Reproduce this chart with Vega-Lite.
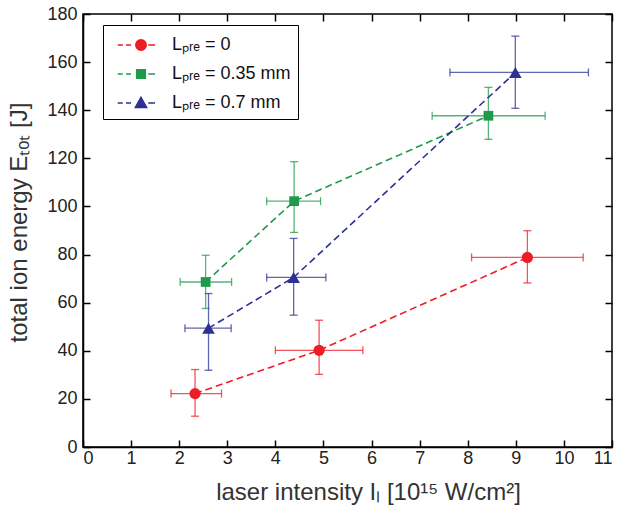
{
  "$schema": "https://vega.github.io/schema/vega-lite/v6.json",
  "width": 529,
  "height": 433,
  "autosize": "none",
  "padding": {"left": 83, "top": 14, "right": 8, "bottom": 63},
  "background": "white",
  "data": {
    "values": [
      {"series": "Lₚᵣₑ = 0", "x": 2.33, "xlo": 1.83, "xhi": 2.88, "y": 22.2, "ylo": 12.8, "yhi": 32.2},
      {"series": "Lₚᵣₑ = 0", "x": 4.91, "xlo": 4.0, "xhi": 5.82, "y": 40.2, "ylo": 30.2, "yhi": 52.7},
      {"series": "Lₚᵣₑ = 0", "x": 9.24, "xlo": 8.08, "xhi": 10.4, "y": 78.8, "ylo": 68.2, "yhi": 89.9},
      {"series": "Lₚᵣₑ = 0.35 mm", "x": 2.55, "xlo": 2.02, "xhi": 3.09, "y": 68.6, "ylo": 57.6, "yhi": 79.7},
      {"series": "Lₚᵣₑ = 0.35 mm", "x": 4.39, "xlo": 3.82, "xhi": 4.94, "y": 102.2, "ylo": 89.2, "yhi": 118.6},
      {"series": "Lₚᵣₑ = 0.35 mm", "x": 8.43, "xlo": 7.26, "xhi": 9.61, "y": 137.7, "ylo": 127.9, "yhi": 149.5},
      {"series": "Lₚᵣₑ = 0.7 mm", "x": 2.61, "xlo": 2.12, "xhi": 3.08, "y": 49.4, "ylo": 31.9, "yhi": 63.8},
      {"series": "Lₚᵣₑ = 0.7 mm", "x": 4.38, "xlo": 3.82, "xhi": 5.05, "y": 70.5, "ylo": 54.8, "yhi": 86.7},
      {"series": "Lₚᵣₑ = 0.7 mm", "x": 8.99, "xlo": 7.63, "xhi": 10.51, "y": 155.7, "ylo": 140.8, "yhi": 170.8}
    ]
  },
  "layer": [
    {
      "mark": {"type": "errorbar", "ticks": {"size": 8, "thickness": 1.3, "opacity": 0.75}, "rule": {"strokeWidth": 1.3, "opacity": 0.75}},
      "encoding": {
        "x": {"field": "xlo", "type": "quantitative", "scale": {"domain": [0, 11], "nice": false}, "axis": null},
        "x2": {"field": "xhi"},
        "y": {"field": "y", "type": "quantitative", "scale": {"domain": [0, 180], "nice": false}, "axis": null},
        "color": {"field": "series", "type": "nominal"}
      }
    },
    {
      "mark": {"type": "errorbar", "ticks": {"size": 8, "thickness": 1.3, "opacity": 0.75}, "rule": {"strokeWidth": 1.3, "opacity": 0.75}},
      "encoding": {
        "x": {"field": "x", "type": "quantitative", "axis": null},
        "y": {"field": "ylo", "type": "quantitative", "axis": null},
        "y2": {"field": "yhi"},
        "color": {"field": "series", "type": "nominal"}
      }
    },
    {
      "mark": {"type": "line", "strokeWidth": 1.6, "strokeDash": [7, 4]},
      "encoding": {
        "x": {
          "field": "x", "type": "quantitative",
          "axis": {"orient": "bottom", "tickCount": 11, "title": "laser intensity Iₗ [10¹⁵ W/cm²]", "titleX": 285, "titleY": 33, "titleBaseline": "top", "titleFontSize": 24}
        },
        "y": {
          "field": "y", "type": "quantitative",
          "axis": {"orient": "left", "tickCount": 9, "title": "total ion energy Eₜₒₜ  [J]", "titleX": -52, "titleY": 208, "titleBaseline": "bottom", "titleFontSize": 24}
        },
        "color": {
          "field": "series", "type": "nominal",
          "scale": {"domain": ["Lₚᵣₑ = 0", "Lₚᵣₑ = 0.35 mm", "Lₚᵣₑ = 0.7 mm"], "range": ["#ee1c25", "#1f9a4b", "#2e3192"]},
          "legend": {
            "orient": "none", "legendX": 20, "legendY": 11, "title": null,
            "padding": 6.5, "symbolOffset": 18, "symbolSize": 625, "labelOffset": 17.5, "rowPadding": 6,
            "strokeColor": "black", "fillColor": "white",
            "labelFontSize": 18, "labelFont": "Liberation Sans", "labelColor": "#111",
            "encode": {
              "symbols": {
                "update": {
                  "shape": {"signal": "datum.index === 0 ? 'M-1.86,0H-1.46M-1.2,0H-0.8M0.58,0H1.12M0.42,0A0.42,0.42,0,1,1,-0.42,0A0.42,0.42,0,1,1,0.42,0Z' : datum.index === 1 ? 'M-1.86,0H-1.46M-1.2,0H-0.8M0.58,0H1.12M-0.35,-0.35H0.35V0.35H-0.35Z' : 'M-1.86,0H-1.46M-1.2,0H-0.8M0.58,0H1.12M0,-0.46L0.46,0.36L-0.46,0.36Z'"},
                  "fill": {"scale": "color", "field": "value"},
                  "stroke": {"scale": "color", "field": "value"},
                  "strokeWidth": {"value": 1.4},
                  "strokeDash": {"value": []},
                  "opacity": {"value": 1},
                  "fillOpacity": {"value": 1}
                }
              }
            }
          }
        }
      }
    },
    {
      "mark": {"type": "point", "filled": true, "opacity": 1},
      "encoding": {
        "x": {"field": "x", "type": "quantitative", "axis": {"orient": "top", "labels": false, "domain": false, "title": null, "tickCount": 11}},
        "y": {"field": "y", "type": "quantitative", "axis": {"orient": "right", "labels": false, "domain": false, "title": null, "tickCount": 9}},
        "color": {"field": "series", "type": "nominal"},
        "shape": {
          "condition": [
            {"test": "datum.series === 'Lₚᵣₑ = 0'", "value": "circle"},
            {"test": "datum.series === 'Lₚᵣₑ = 0.35 mm'", "value": "square"}
          ],
          "value": "triangle-up"
        },
        "size": {
          "condition": [
            {"test": "datum.series === 'Lₚᵣₑ = 0'", "value": 125},
            {"test": "datum.series === 'Lₚᵣₑ = 0.35 mm'", "value": 95}
          ],
          "value": 160
        }
      }
    }
  ],
  "resolve": {"axis": {"x": "independent", "y": "independent"}},
  "config": {
    "view": {"stroke": "black", "strokeWidth": 1.5},
    "axis": {
      "grid": false,
      "domainColor": "black", "domainWidth": 1.5,
      "tickColor": "black", "tickWidth": 1.5, "tickSize": -7,
      "labelFont": "Liberation Sans", "labelFontSize": 18, "labelColor": "#222",
      "titleFont": "Liberation Sans", "titleFontSize": 20, "titleFontWeight": "normal", "titleColor": "#333"
    },
    "axisBottom": {"labelPadding": 9},
    "axisLeft": {"labelPadding": 13}
  }
}
